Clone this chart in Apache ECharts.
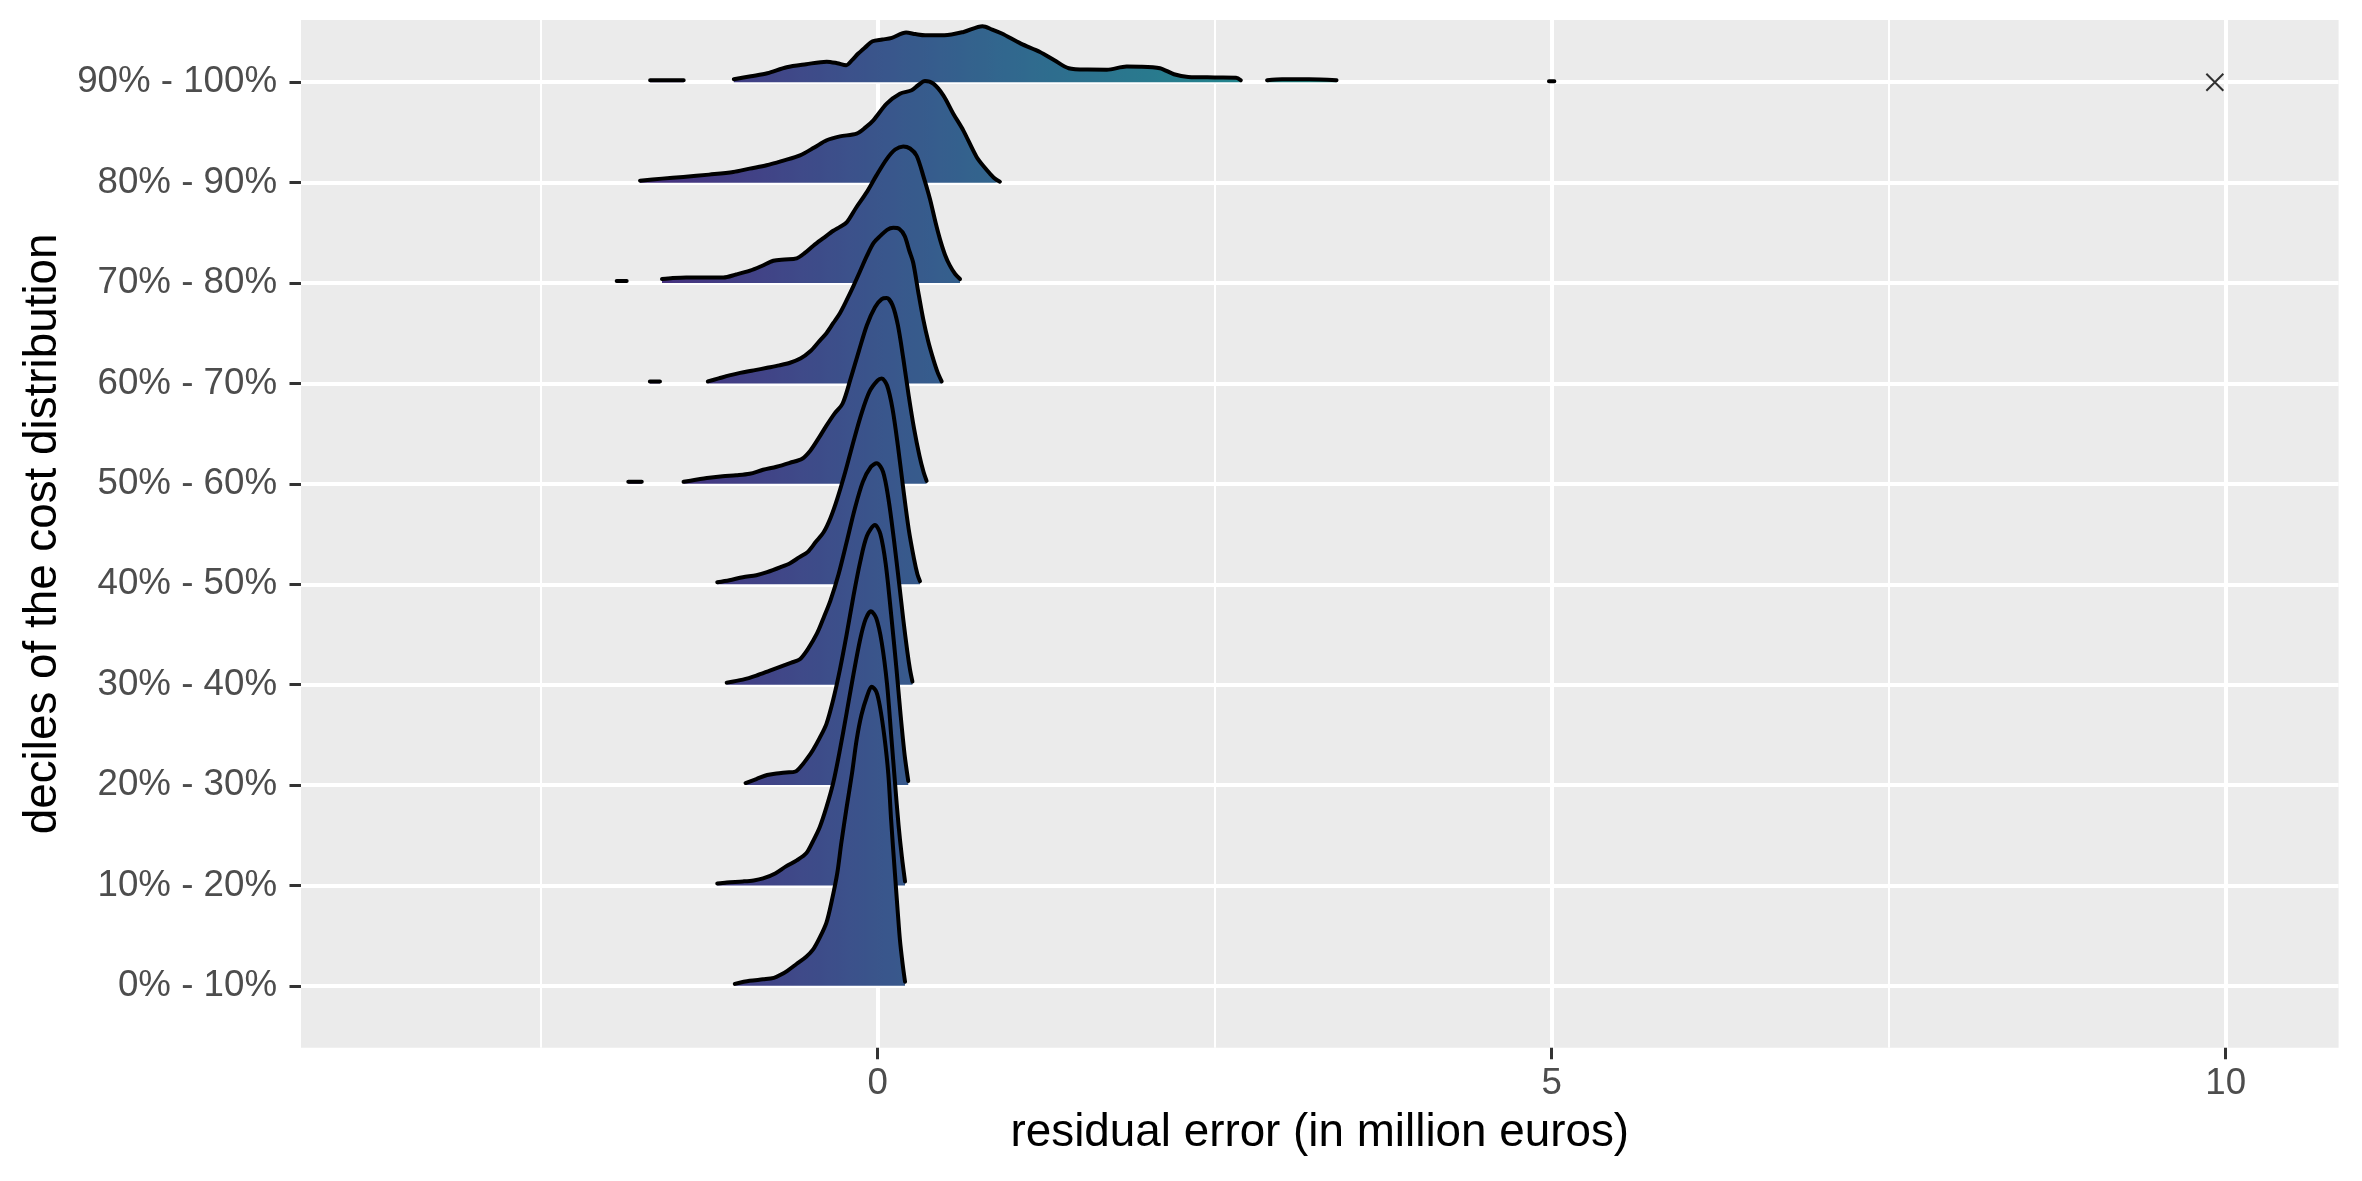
<!DOCTYPE html>
<html><head><meta charset="utf-8">
<script src="https://cdn.jsdelivr.net/npm/echarts@6/dist/echarts.min.js"></script>
<style>html,body{margin:0;padding:0;background:#fff}#chart{width:2362px;height:1181px}</style>
</head><body><div id="chart"></div>
<script>
// ---- data ----
const categories = ['0% - 10%','10% - 20%','20% - 30%','30% - 40%','40% - 50%','50% - 60%','60% - 70%','70% - 80%','80% - 90%','90% - 100%'];
const xMajorTicks = [0, 5, 10];
const xMinorTicks = [-2.5, 2.5, 7.5];
const xRange = [-4.278, 10.838];
const fillRange = [-3.59, 10.15];

// each ridge: list of segments, each segment a list of [x, density height (in row units)]
const r0_10 = [[[-1.06,0.02],[-0.95,0.05],[-0.85,0.065],[-0.77,0.08],[-0.72,0.11],[-0.67,0.15],[-0.6,0.22],[-0.53,0.29],[-0.48,0.36],[-0.43,0.48],[-0.38,0.63],[-0.34,0.85],[-0.30,1.12],[-0.27,1.42],[-0.23,1.78],[-0.19,2.12],[-0.156,2.45],[-0.12,2.7],[-0.08,2.88],[-0.045,2.98],[-0.01,2.93],[0.017,2.78],[0.05,2.48],[0.079,2.11],[0.10,1.65],[0.128,1.12],[0.15,0.72],[0.165,0.46],[0.185,0.22],[0.203,0.04]]];
const r10_20 = [[[-1.19,0.02],[-1.12,0.03],[-1.0,0.04],[-0.92,0.05],[-0.85,0.07],[-0.76,0.12],[-0.68,0.19],[-0.6,0.25],[-0.53,0.32],[-0.48,0.44],[-0.43,0.58],[-0.38,0.78],[-0.33,1.02],[-0.28,1.35],[-0.23,1.72],[-0.18,2.1],[-0.13,2.45],[-0.09,2.65],[-0.05,2.73],[-0.01,2.66],[0.03,2.42],[0.07,2.0],[0.10,1.5],[0.13,1.0],[0.155,0.6],[0.18,0.28],[0.203,0.04]]];
const r20_30 = [[[-0.98,0.02],[-0.9,0.06],[-0.82,0.1],[-0.75,0.115],[-0.68,0.125],[-0.61,0.135],[-0.56,0.2],[-0.52,0.27],[-0.48,0.35],[-0.43,0.47],[-0.38,0.61],[-0.33,0.85],[-0.28,1.15],[-0.23,1.5],[-0.18,1.88],[-0.13,2.22],[-0.08,2.48],[-0.02,2.59],[0.02,2.5],[0.06,2.2],[0.10,1.7],[0.14,1.15],[0.17,0.7],[0.20,0.3],[0.227,0.04]]];
const r30_40 = [[[-1.12,0.02],[-1.0,0.05],[-0.9,0.09],[-0.8,0.14],[-0.72,0.18],[-0.64,0.22],[-0.58,0.25],[-0.52,0.35],[-0.45,0.51],[-0.40,0.67],[-0.35,0.84],[-0.29,1.1],[-0.23,1.42],[-0.17,1.75],[-0.11,2.02],[-0.05,2.17],[-0.007,2.205],[0.04,2.12],[0.08,1.85],[0.12,1.45],[0.16,1.0],[0.19,0.65],[0.22,0.33],[0.24,0.15],[0.258,0.03]]];
const r40_50 = [[[-1.19,0.02],[-1.1,0.04],[-1.0,0.07],[-0.9,0.09],[-0.82,0.12],[-0.72,0.17],[-0.65,0.21],[-0.58,0.27],[-0.52,0.32],[-0.46,0.42],[-0.40,0.52],[-0.35,0.66],[-0.30,0.85],[-0.24,1.12],[-0.18,1.42],[-0.12,1.7],[-0.06,1.92],[0.0,2.03],[0.03,2.05],[0.07,1.98],[0.11,1.75],[0.15,1.38],[0.19,0.95],[0.23,0.55],[0.27,0.25],[0.295,0.1],[0.314,0.03]]];
const r50_60 = [[[-1.85,0.02],[-1.75,0.02]],
  [[-1.44,0.02],[-1.35,0.04],[-1.25,0.06],[-1.15,0.075],[-1.05,0.085],[-0.95,0.1],[-0.85,0.14],[-0.75,0.17],[-0.65,0.21],[-0.56,0.25],[-0.50,0.33],[-0.44,0.45],[-0.38,0.58],[-0.32,0.7],[-0.26,0.8],[-0.2,1.05],[-0.14,1.32],[-0.08,1.58],[-0.02,1.76],[0.03,1.84],[0.067,1.85],[0.11,1.78],[0.15,1.58],[0.19,1.25],[0.23,0.88],[0.27,0.55],[0.31,0.28],[0.34,0.12],[0.363,0.03]]];
const r60_70 = [[[-1.69,0.02],[-1.615,0.02]],
  [[-1.26,0.02],[-1.18,0.05],[-1.1,0.08],[-1.02,0.105],[-0.92,0.13],[-0.82,0.156],[-0.73,0.18],[-0.65,0.206],[-0.57,0.25],[-0.5,0.32],[-0.44,0.41],[-0.38,0.5],[-0.33,0.6],[-0.28,0.7],[-0.23,0.83],[-0.18,0.97],[-0.13,1.12],[-0.08,1.27],[-0.03,1.4],[0.02,1.47],[0.07,1.53],[0.116,1.55],[0.16,1.54],[0.2,1.47],[0.235,1.32],[0.264,1.2],[0.3,0.92],[0.338,0.64],[0.375,0.42],[0.413,0.24],[0.445,0.11],[0.475,0.02]]];
const r70_80 = [[[-1.936,0.02],[-1.862,0.02]],
  [[-1.60,0.04],[-1.52,0.05],[-1.42,0.056],[-1.28,0.056],[-1.145,0.056],[-1.05,0.085],[-0.947,0.123],[-0.86,0.17],[-0.774,0.222],[-0.69,0.235],[-0.601,0.246],[-0.54,0.3],[-0.477,0.372],[-0.40,0.45],[-0.329,0.521],[-0.28,0.56],[-0.23,0.604],[-0.16,0.75],[-0.082,0.903],[-0.01,1.07],[0.067,1.235],[0.13,1.33],[0.19,1.361],[0.24,1.34],[0.289,1.268],[0.34,1.06],[0.388,0.837],[0.43,0.6],[0.462,0.438],[0.50,0.28],[0.536,0.173],[0.575,0.09],[0.611,0.04]]];
const r80_90 = [[[-1.763,0.02],[-1.6,0.04],[-1.442,0.056],[-1.25,0.08],[-1.071,0.106],[-0.95,0.14],[-0.824,0.173],[-0.7,0.22],[-0.576,0.272],[-0.47,0.35],[-0.378,0.422],[-0.28,0.461],[-0.156,0.488],[-0.09,0.55],[-0.032,0.621],[0.067,0.787],[0.165,0.886],[0.252,0.92],[0.30,0.97],[0.351,1.013],[0.413,0.986],[0.487,0.87],[0.561,0.687],[0.635,0.521],[0.734,0.256],[0.8,0.14],[0.833,0.09],[0.87,0.04],[0.907,0.01]]];
const r90_100 = [[[-1.688,0.02],[-1.439,0.02]],
  [[-1.067,0.03],[-0.94,0.06],[-0.818,0.09],[-0.675,0.15],[-0.53,0.18],[-0.378,0.205],[-0.30,0.19],[-0.233,0.17],[-0.19,0.22],[-0.144,0.286],[-0.09,0.35],[-0.038,0.408],[0.035,0.425],[0.105,0.442],[0.211,0.495],[0.28,0.48],[0.353,0.468],[0.495,0.468],[0.637,0.501],[0.778,0.558],[0.85,0.525],[0.921,0.485],[1.062,0.385],[1.204,0.302],[1.311,0.219],[1.417,0.14],[1.559,0.126],[1.7,0.125],[1.847,0.156],[1.95,0.155],[2.094,0.14],[2.198,0.08],[2.304,0.053],[2.5,0.048],[2.659,0.046],[2.694,0.02]],
  [[2.889,0.02],[3.0,0.03],[3.2,0.03],[3.404,0.02]],
  [[4.98,0.01],[5.02,0.01]]];
const ridges = [r0_10, r10_20, r20_30, r30_40, r40_50, r50_60, r60_70, r70_80, r80_90, r90_100];
const outlierX = [9.92];
const outlierRow = [9];

const viridis = ['#440154','#471365','#482475','#463480','#414487','#3B528B','#355F8D','#2F6C8E','#2A788E','#25848E','#21918C','#1E9C89','#22A884','#2FB47C','#44BF70','#5EC962','#7AD151','#9BD93C','#BDDF26','#DFE318','#FDE725'];

// ---- build ----
const FONT = '"Liberation Sans", Arial, sans-serif';
const series = [];
for (let i = ridges.length - 1; i >= 0; i--) {
  const data = [];
  ridges[i].forEach((seg, k) => {
    if (k > 0) data.push(['-', '-']);
    seg.forEach(p => data.push([p[0], i + p[1]]));
  });
  series.push({
    type: 'line', name: categories[i], data: data,
    showSymbol: false, connectNulls: false, smooth: 0.3,
    lineStyle: { color: '#000', width: 4, join: 'round', cap: 'round' },
    areaStyle: { opacity: 1, origin: i },
    silent: true
  });
}
const ridgeIdx = series.map((_, k) => k);
series.push({
  type: 'scatter', data: outlierX.map((x, k) => [x, outlierRow[k]]),
  symbol: 'path://M0,0L10,10M10,0L0,10', symbolSize: 17,
  itemStyle: { color: 'none', borderColor: '#000', borderWidth: 2 }, silent: true
});

const option = {
  animation: false,
  backgroundColor: '#fff',
  grid: { left: 301, right: 23.4, top: 20, bottom: 133.3, show: true, backgroundColor: '#EBEBEB', borderWidth: 0, containLabel: false },
  visualMap: { type: 'continuous', show: false, dimension: 0, min: fillRange[0], max: fillRange[1], seriesIndex: ridgeIdx, inRange: { color: viridis } },
  xAxis: [{
    type: 'value', min: xRange[0], max: xRange[1], position: 'bottom',
    name: 'residual error (in million euros)', nameLocation: 'middle', nameGap: 63,
    nameTextStyle: { fontSize: 45.8, color: '#000', fontFamily: FONT },
    axisLine: { show: false, onZero: false },
    axisTick: { show: true, customValues: xMajorTicks, length: 11.5, lineStyle: { color: '#333', width: 3 } },
    axisLabel: { customValues: xMajorTicks, fontSize: 36.7, color: '#4D4D4D', fontFamily: FONT, margin: 18 },
    splitLine: { show: true, lineStyle: { color: '#fff', width: 4 } }
  }, {
    type: 'value', min: xRange[0], max: xRange[1], position: 'bottom',
    axisLine: { show: false, onZero: false },
    axisTick: { show: false, customValues: xMinorTicks },
    axisLabel: { show: false, customValues: xMinorTicks },
    splitLine: { show: true, lineStyle: { color: '#fff', width: 2 } }
  }],
  yAxis: {
    type: 'value', min: -0.616, max: 9.62, position: 'left',
    name: 'deciles of the cost distribution', nameLocation: 'middle', nameRotate: 90, nameGap: 233,
    nameTextStyle: { fontSize: 45.8, color: '#000', fontFamily: FONT },
    axisLine: { show: false, onZero: false },
    axisTick: { show: true, customValues: categories.map((_, i) => i), length: 11.5, lineStyle: { color: '#333', width: 3 } },
    axisLabel: { customValues: categories.map((_, i) => i), formatter: v => categories[Math.round(v)], fontSize: 36.7, color: '#4D4D4D', fontFamily: FONT, margin: 24 },
    splitLine: { show: true, lineStyle: { color: '#fff', width: 4 } }
  },
  series: series
};
const chart = echarts.init(document.getElementById('chart'), null, { renderer: 'canvas' });
chart.setOption(option);
</script></body></html>
